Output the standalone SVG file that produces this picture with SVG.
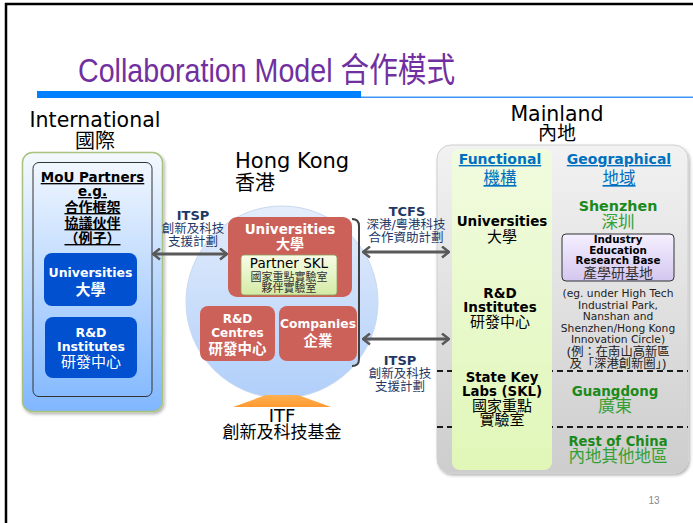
<svg xmlns="http://www.w3.org/2000/svg" width="693" height="523" viewBox="0 0 693 523">
<defs>
<style>
.t{font-family:"DejaVu Sans","Noto Sans CJK TC",sans-serif;}
.b{font-weight:bold;}
.m{text-anchor:middle;}
.w{fill:#ffffff;}
.navy{fill:#1F3864;}
.blue{fill:#0070C0;}
.grn{fill:#1A8A1A;}
.grn2{fill:#33A033;}
.u{text-decoration:underline;}
.conn{stroke:#595959;stroke-width:3;fill:none;marker-start:url(#ah);marker-end:url(#ah);}
</style>
<marker id="ah" viewBox="0 0 9 13" refX="8" refY="6.5" markerWidth="9" markerHeight="13" markerUnits="userSpaceOnUse" orient="auto-start-reverse">
<path d="M1,1 L8,6.5 L1,12" fill="none" stroke="#595959" stroke-width="2.5"/>
</marker>
<linearGradient id="gIntl" x1="0" y1="0" x2="0" y2="1">
<stop offset="0" stop-color="#f5f9fe"/><stop offset="1" stop-color="#80b7ff"/>
</linearGradient>
<linearGradient id="gCirc" x1="0" y1="0" x2="0" y2="1">
<stop offset="0" stop-color="#e4edfb"/><stop offset="1" stop-color="#b0cffa"/>
</linearGradient>
<linearGradient id="gSkl" x1="0" y1="0" x2="0" y2="1">
<stop offset="0" stop-color="#f8fce6"/><stop offset="1" stop-color="#d4eba6"/>
</linearGradient>
<linearGradient id="gMain" x1="0" y1="0" x2="0" y2="1">
<stop offset="0" stop-color="#f2f2f2"/><stop offset="1" stop-color="#cdcdcd"/>
</linearGradient>
<linearGradient id="gFunc" x1="0" y1="0" x2="0" y2="1">
<stop offset="0" stop-color="#f1fbdf"/><stop offset="1" stop-color="#e0f7b8"/>
</linearGradient>
<linearGradient id="gLav" x1="0" y1="0" x2="0" y2="1">
<stop offset="0" stop-color="#f5f0ff"/><stop offset="1" stop-color="#d4c6ef"/>
</linearGradient>
<linearGradient id="gOr" x1="0" y1="0" x2="0" y2="1">
<stop offset="0" stop-color="#ffb050"/><stop offset="1" stop-color="#ff9a30"/>
</linearGradient>
<filter id="sh" x="-10%" y="-10%" width="125%" height="125%">
<feDropShadow dx="1.5" dy="2" stdDeviation="1.5" flood-color="#000" flood-opacity="0.3"/>
</filter>
</defs>

<rect x="0" y="0" width="693" height="523" fill="#ffffff"/>
<path d="M6,523 L6,4 L693,4" fill="none" stroke="#000" stroke-width="2.5"/>

<g id="title">
<text x="78" y="82" font-family="'Liberation Sans','Noto Sans CJK TC',sans-serif" font-size="34" fill="#7030A0" textLength="377" lengthAdjust="spacingAndGlyphs">Collaboration Model 合作模式</text>
<rect x="37" y="91" width="324" height="7" fill="#0080FF"/>
<rect x="361" y="96.5" width="332" height="1.5" fill="#3d95f5"/>
</g>

<g id="headers">
<text class="t m" x="95" y="127" font-size="20.5">International</text>
<text class="t m" x="95" y="148" font-size="20">國際</text>
<text class="t" x="235" y="168" font-size="21">Hong Kong</text>
<text class="t" x="235" y="190" font-size="20">香港</text>
<text class="t m" x="557" y="121" font-size="20.5">Mainland</text>
<text class="t m" x="557" y="140" font-size="19">內地</text>
</g>

<g id="international">
<rect x="22.5" y="152.5" width="140" height="259" rx="10" fill="url(#gIntl)" stroke="#a9c27e" stroke-width="1.5" filter="url(#sh)"/>
<rect x="33" y="162.5" width="119" height="234" rx="6" fill="none" stroke="#333" stroke-width="1"/>
<text class="t b m u" x="92.5" y="182" font-size="13.5">MoU Partners</text>
<text class="t b m u" x="92.5" y="196" font-size="13.5">e.g.</text>
<text class="t b m u" x="92.5" y="212" font-size="14">合作框架</text>
<text class="t b m u" x="92.5" y="228" font-size="14">協議伙伴</text>
<text class="t b m u" x="92.5" y="243" font-size="14">（例子）</text>
<g id="intl-universities">
<rect x="44" y="253" width="93" height="53" rx="8" fill="#0050D0"/>
<text class="t b m w" x="90.5" y="277" font-size="12.5">Universities</text>
<text class="t b m w" x="90.5" y="295" font-size="15">大學</text>
</g>
<g id="intl-rd">
<rect x="45" y="317" width="92" height="61" rx="8" fill="#0050D0"/>
<text class="t b m w" x="91" y="337" font-size="12.5">R&amp;D</text>
<text class="t b m w" x="91" y="351" font-size="12.5">Institutes</text>
<text class="t m w" x="91" y="367" font-size="15">研發中心</text>
</g>
</g>

<g id="hongkong">
<circle cx="282" cy="302" r="96" fill="url(#gCirc)" stroke="#c8d9f2" stroke-width="1"/>
<g id="hk-universities">
<rect x="228" y="217" width="124" height="80" rx="9" fill="#CC6159"/>
<text class="t b m w" x="290" y="234" font-size="13.5">Universities</text>
<text class="t b m w" x="290" y="249" font-size="14">大學</text>
</g>
<g id="partner-skl">
<rect x="241" y="255" width="96" height="40" rx="3" fill="url(#gSkl)" stroke="#8fa060" stroke-width="0.8"/>
<text class="t m" x="289" y="268" font-size="13.5">Partner SKL</text>
<text class="t m" x="289" y="281" font-size="11" fill="#333">國家重點實驗室</text>
<text class="t m" x="289" y="292" font-size="11" fill="#333">夥伴實驗室</text>
</g>
<g id="hk-rd">
<rect x="200" y="306" width="75" height="55" rx="8" fill="#CC6159"/>
<text class="t b m w" x="237.5" y="323" font-size="12">R&amp;D</text>
<text class="t b m w" x="237.5" y="337" font-size="12">Centres</text>
<text class="t b m w" x="237.5" y="354" font-size="14.5">研發中心</text>
</g>
<g id="hk-companies">
<rect x="279" y="306" width="78" height="55" rx="8" fill="#CC6159"/>
<text class="t b m w" x="318" y="328" font-size="12.3">Companies</text>
<text class="t b m w" x="318" y="346" font-size="14.5">企業</text>
</g>
<path d="M352,219 Q359,219 359,226 L359,359 Q359,366 352,366" fill="none" stroke="#404040" stroke-width="2"/>
</g>

<g id="itf">
<polygon points="233,407 266,395 298,395 331,407" fill="url(#gOr)"/>
<text class="t m" x="282" y="422" font-size="18">ITF</text>
<text class="t m" x="282" y="438" font-size="17">創新及科技基金</text>
</g>

<g id="mainland">
<rect x="437" y="145" width="251" height="328" rx="14" fill="url(#gMain)" stroke="#cfcfcf" stroke-width="1" filter="url(#sh)"/>
<line x1="437" y1="371" x2="688" y2="371" stroke="#1a1a1a" stroke-width="2" stroke-dasharray="6,4"/>
<line x1="437" y1="427" x2="688" y2="427" stroke="#1a1a1a" stroke-width="2" stroke-dasharray="6,4"/>
<g id="functional">
<rect x="452" y="149" width="100" height="321" rx="8" fill="url(#gFunc)"/>
<text class="t b m blue u" x="500" y="164" font-size="14">Functional</text>
<text class="t m blue u" x="500" y="184" font-size="16.5">機構</text>
<g id="ml-universities">
<text class="t b m" x="502" y="226" font-size="13.5">Universities</text>
<text class="t m" x="502" y="242" font-size="15">大學</text>
</g>
<g id="ml-rd">
<text class="t b m" x="500" y="298" font-size="13.5">R&amp;D</text>
<text class="t b m" x="500" y="312" font-size="13.5">Institutes</text>
<text class="t m" x="500" y="327" font-size="15">研發中心</text>
</g>
<g id="ml-skl">
<text class="t b m" x="502" y="382" font-size="13.3">State Key</text>
<text class="t b m" x="502" y="396" font-size="13.3">Labs (SKL)</text>
<text class="t m" x="502" y="411" font-size="15">國家重點</text>
<text class="t m" x="502" y="425" font-size="15">實驗室</text>
</g>
</g>
<g id="geographical">
<text class="t b m blue u" x="619" y="164" font-size="14">Geographical</text>
<text class="t m blue u" x="619" y="184" font-size="16.5">地域</text>
<g id="shenzhen">
<text class="t b m grn" x="618" y="211" font-size="14.3">Shenzhen</text>
<text class="t m grn2" x="618" y="228" font-size="16.5">深圳</text>
<g id="iers-base">
<rect x="562" y="234" width="112" height="47" rx="4" fill="url(#gLav)" stroke="#333" stroke-width="1"/>
<text class="t b m" x="618" y="243" font-size="10.3">Industry</text>
<text class="t b m" x="618" y="254" font-size="10.3">Education</text>
<text class="t b m" x="618" y="264" font-size="10.3">Research Base</text>
<text class="t m" x="618" y="278" font-size="14" fill="#333">產學研基地</text>
</g>
<text class="t m" x="618" y="297" font-size="10.7" fill="#222">(eg. under High Tech</text>
<text class="t m" x="618" y="309" font-size="10.7" fill="#222">Industrial Park,</text>
<text class="t m" x="618" y="320" font-size="10.7" fill="#222">Nanshan and</text>
<text class="t m" x="618" y="332" font-size="10.7" fill="#222">Shenzhen/Hong Kong</text>
<text class="t m" x="618" y="343" font-size="10.7" fill="#222">Innovation Circle)</text>
<text class="t m" x="618" y="356" font-size="12.3" fill="#222">(例：在南山高新區</text>
<text class="t m" x="618" y="368" font-size="12.3" fill="#222">及「深港創新圈」)</text>
</g>
<g id="guangdong">
<text class="t b m grn" x="615" y="396" font-size="13.4">Guangdong</text>
<text class="t m grn2" x="615" y="412" font-size="17">廣東</text>
</g>
<g id="rest-of-china">
<text class="t b m grn" x="618" y="446" font-size="13.2">Rest of China</text>
<text class="t m grn2" x="618" y="462" font-size="16.5">內地其他地區</text>
</g>
</g>
</g>

<g id="connectors">
<line class="conn" x1="153" y1="254" x2="227" y2="254"/>
<line class="conn" x1="363" y1="252" x2="449" y2="252"/>
<line class="conn" x1="363" y1="339" x2="449" y2="339"/>
<g id="conn-labels">
<text class="t b m navy" x="193" y="220" font-size="13">ITSP</text>
<text class="t m navy" x="193" y="233" font-size="12.5">創新及科技</text>
<text class="t m navy" x="193" y="246" font-size="12.5">支援計劃</text>
<text class="t b m navy" x="407" y="216" font-size="13">TCFS</text>
<text class="t m navy" x="406" y="229" font-size="12.5">深港/粵港科技</text>
<text class="t m navy" x="406" y="242" font-size="12.5">合作資助計劃</text>
<text class="t b m navy" x="400" y="365" font-size="13">ITSP</text>
<text class="t m navy" x="400" y="378" font-size="12.5">創新及科技</text>
<text class="t m navy" x="400" y="391" font-size="12.5">支援計劃</text>
</g>
</g>

<text x="654" y="504" font-family="'Liberation Sans',sans-serif" font-size="10" fill="#888" text-anchor="middle">13</text>
</svg>
